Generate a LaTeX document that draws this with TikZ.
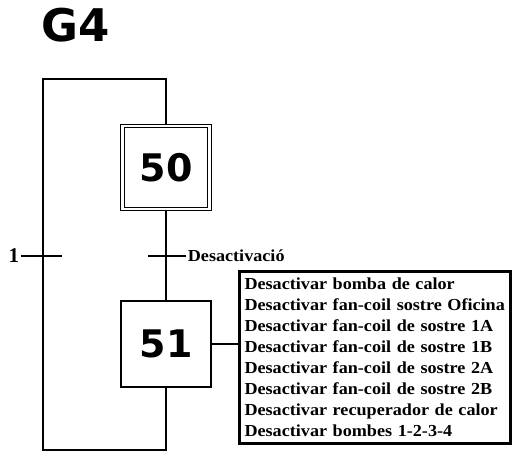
\documentclass[tikz,border=0pt]{standalone}
\usepackage{fontspec}
\setmainfont{Liberation Serif}
\newfontfamily\widefont[FakeStretch=1.08]{Liberation Serif}
\newfontfamily\stepfont{DejaVu Sans}
\usetikzlibrary{positioning,calc}
\tikzset{etapa/.style={draw,line width=1.7pt,minimum width=90pt,minimum height=86pt,inner sep=0pt,font=\stepfont\bfseries\fontsize{38}{38}\selectfont}, inicial/.style={etapa,double,double distance=2.2pt,line width=1.3pt,minimum width=87pt,minimum height=83pt}, enllac/.style={line width=1.7pt}, accio/.style={draw,line width=3pt,align=left,inner xsep=5pt,minimum width=271pt,minimum height=172pt,text width=261pt,font=\widefont\bfseries\fontsize{16.8}{21}\selectfont}, receptivitat/.style={font=\widefont\bfseries\fontsize{16.8}{16.8}\selectfont,inner sep=1pt}}

\begin{document}
\begin{tikzpicture}[x=1pt,y=-1pt]
\useasboundingbox (0,0) rectangle (514,452);
\node[anchor=base west,inner sep=0pt,font=\stepfont\bfseries\fontsize{45}{45}\selectfont] (g4) at (41,42) {G4};
\node[inicial] (s50) at (166,167.5) {50};
\node[etapa] (s51) at (166,344) {51};
\node[accio] (a51) at (375,357.5) {Desactivar bomba de calor\\ Desactivar fan-coil sostre Oficina\\ Desactivar fan-coil de sostre 1A\\ Desactivar fan-coil de sostre 1B\\ Desactivar fan-coil de sostre 2A\\ Desactivar fan-coil de sostre 2B\\ Desactivar recuperador de calor\\ Desactivar bombes 1-2-3-4};
\coordinate (t50) at (166,256);
\coordinate (t51) at (43,256);
\coordinate (rb) at (43,450);
\coordinate (rt) at (43,79);
% enllacos
\draw[enllac] (s50.south) -- (s51.north);
\draw[enllac] (s51.south) |- (rb) -- (rt) -| (s50.north);
\draw[enllac] (s51.east) -- (s51.east -| a51.west);
% receptivitats
\draw[enllac] ($(t50)+(-18,0)$) -- ($(t50)+(20,0)$) node[right,receptivitat] {Desactivació};
\draw[enllac] ($(t51)+(19,0)$) -- ($(t51)+(-22,0)$) node[left,inner sep=1pt,font=\bfseries\fontsize{21}{21}\selectfont] {1};
\end{tikzpicture}
\end{document}
